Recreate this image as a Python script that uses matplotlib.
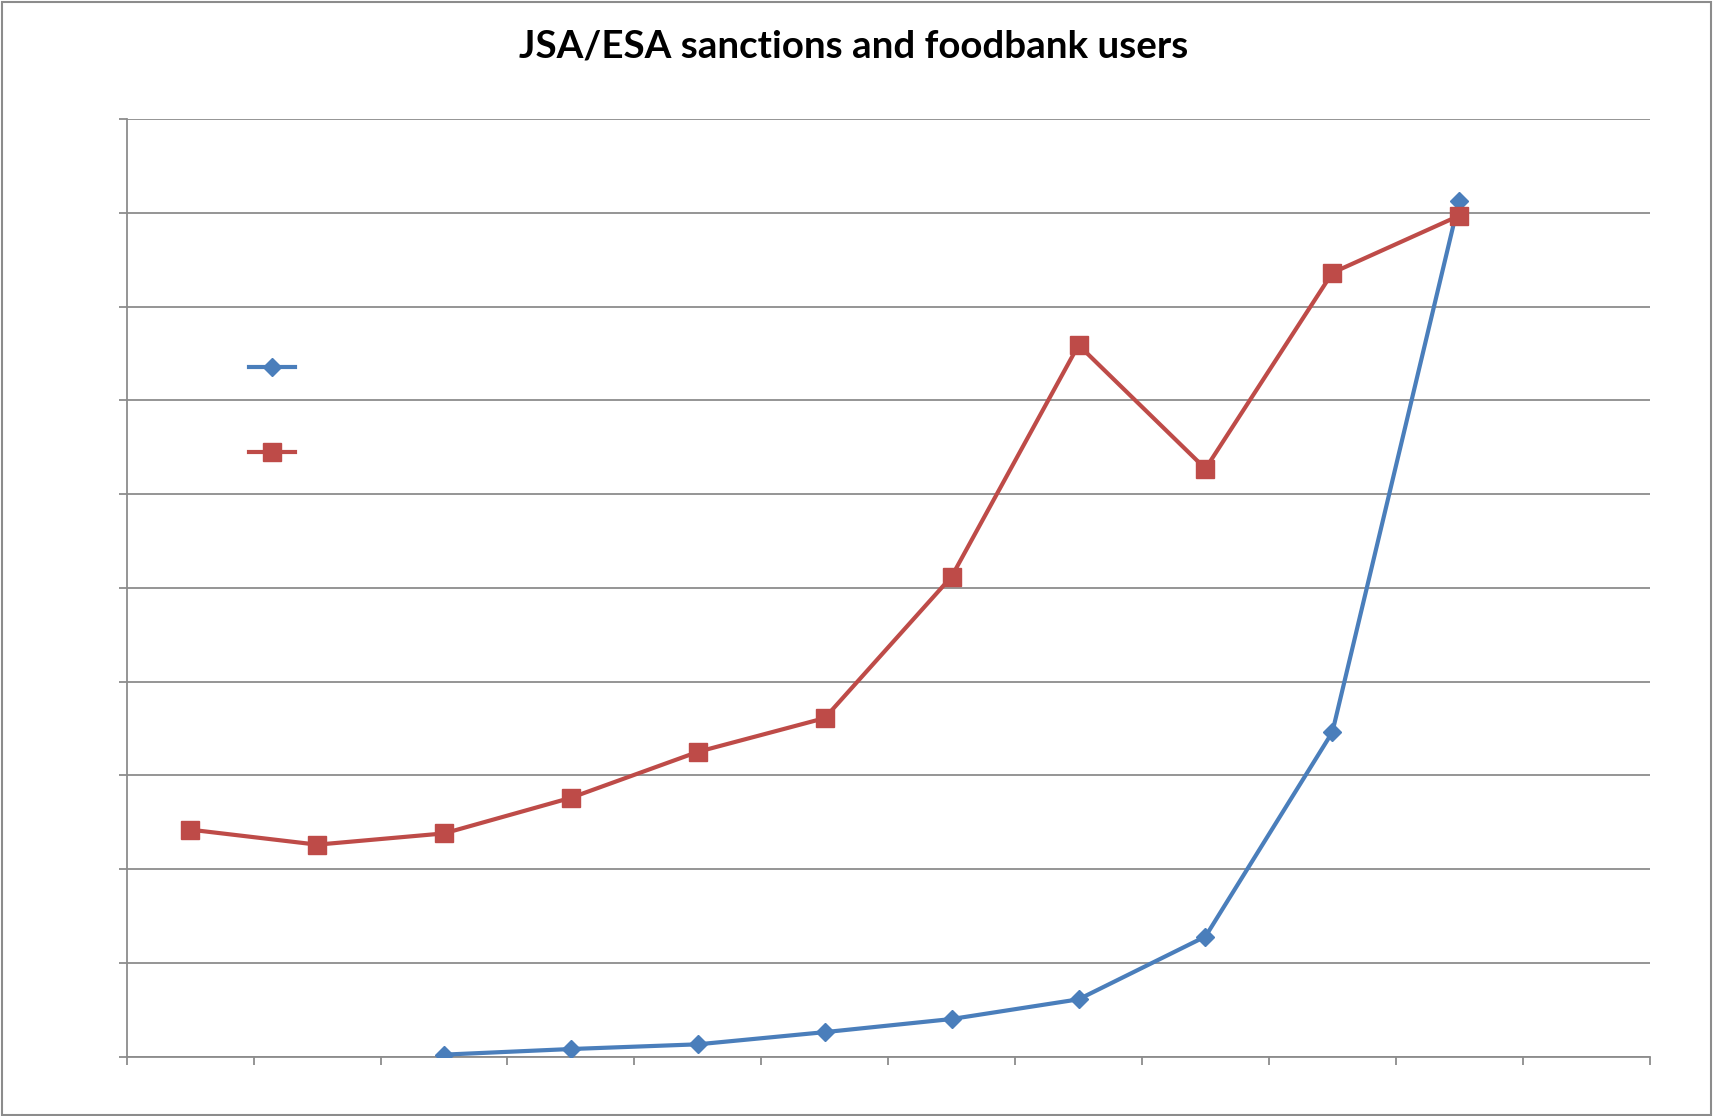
import numpy as np
import matplotlib
matplotlib.use("Agg")
import matplotlib.pyplot as plt
from matplotlib.patches import Rectangle

# 12 category slots on the x axis (gridline units)
categories = list(range(1, 13))
foodbank = [2.42, 2.26, 2.38, 2.76, 3.25, 3.61, 5.12, 7.59, 6.27, 8.36, 8.97]
sanctions = [None, None, 0.02, 0.08, 0.13, 0.26, 0.40, 0.61, 1.28, 3.46, 9.13]

blue = "#4a7ebb"
red = "#be4b48"
grey = "#8c8c8c"

fig = plt.figure(figsize=(17.13, 11.16), dpi=100)
ax = fig.add_axes([0.074, 0.0533, 0.889, 0.840])

x = np.arange(len(foodbank)) + 0.5
s = np.array([np.nan if v is None else v for v in sanctions])
l1, = ax.plot(x, s, color=blue, lw=3, marker="D", ms=9, zorder=3)
l2, = ax.plot(x, foodbank, color=red, lw=3, marker="s", ms=12.5, zorder=3)

ax.set_xlim(0, len(categories))
ax.set_ylim(0, 10)
ax.set_xticks(np.arange(len(categories) + 1))
ax.set_yticks(np.arange(11))
ax.set_xticklabels([])
ax.set_yticklabels([])
ax.grid(axis="y", color=grey, lw=1.3)
ax.set_axisbelow(True)
for side in ["top", "right"]:
    ax.spines[side].set_visible(False)
for side in ["left", "bottom"]:
    ax.spines[side].set_color(grey)
    ax.spines[side].set_linewidth(1.3)
ax.tick_params(axis="both", direction="out", length=6, width=1.3, color=grey)

fig.suptitle("JSA/ESA sanctions and foodbank users", x=0.4985, y=0.958,
             fontsize=27.7, fontweight="bold", family="Lato", va="center")

ax.legend([l1, l2], ["", ""], loc="upper left", bbox_to_anchor=(0.072, 0.755),
          frameon=False, handlelength=3.3, labelspacing=5.1, fontsize=10)

fig.patches.append(Rectangle((0.001, 0.001), 0.998, 0.997, transform=fig.transFigure,
                             fill=False, edgecolor=grey, lw=1.5))

fig.savefig("out.png", dpi=100)
